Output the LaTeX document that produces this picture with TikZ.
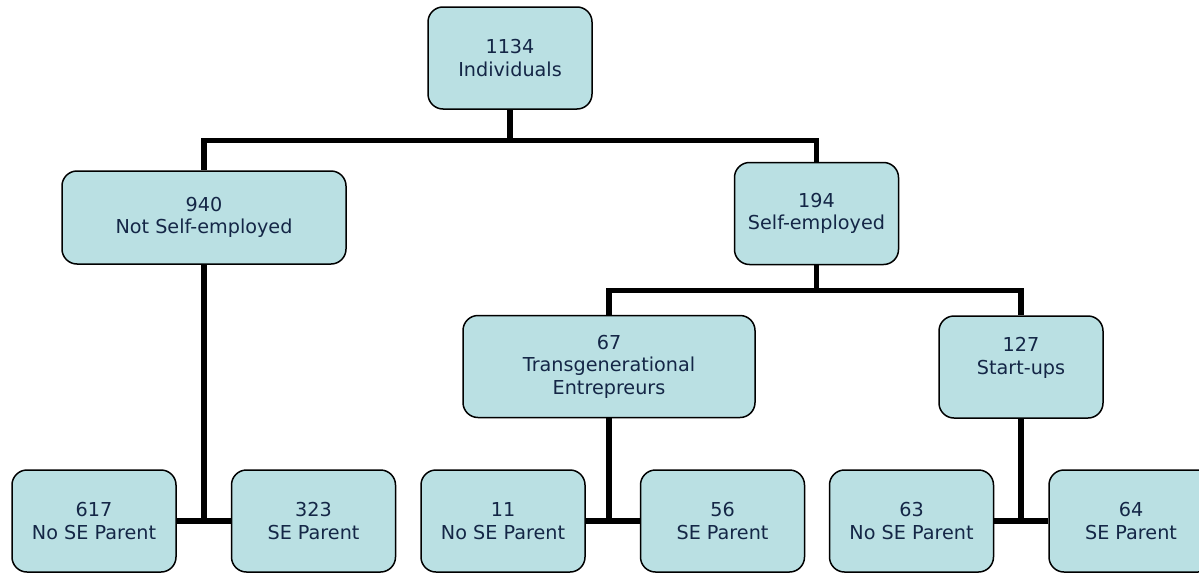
\documentclass[tikz,border=0pt]{standalone}
\usepackage{fontspec}
\setmainfont{DejaVu Sans}
\usetikzlibrary{positioning}
\definecolor{boxfill}{RGB}{186,224,227}
\definecolor{boxtext}{RGB}{20,38,70}

\begin{document}
\begin{tikzpicture}[x=0.5pt, y=-0.5pt, node distance=27pt,
	box/.style={draw, rounded corners=7.5pt, fill=boxfill, text=boxtext, line width=0.75pt,
		align=center, font=\fontsize{9.6}{11.2}\selectfont,
		minimum width=82pt, minimum height=51pt, inner sep=0pt},
	link/.style={line width=2.6pt}]
			\useasboundingbox (0,0) rectangle (1199,573);
			
			\node[box] (ind) at (510,58) {1134\\Individuals};
			
			\node[box, minimum width=142pt, minimum height=46.5pt] (nse) at (204,217.5) {940\\Not Self-employed};
			\node[box] (se) at (816.5,213.5) {194\\Self-employed};
			
			\node[box, minimum width=146pt] (tg) at (609,366.5) {67\\Transgenerational\\Entrepreurs};
			\node[box] (su) at (1021,367) {127\\Start-ups\\~};
			
			\node[box] (nseno) at (94,521) {617\\No SE Parent};
			\node[box] (nsese) [right=of nseno] {323\\SE Parent};
			
			\node[box] (tgno) at (503,521) {11\\No SE Parent};
			\node[box] (tgse) [right=of tgno] {56\\SE Parent};
			
			\node[box] (suno) at (911.5,521) {63\\No SE Parent};
			\node[box] (suse) [right=of suno] {64\\SE Parent};
			
			\draw[link] (ind.south) -- ++(0,31) -| (nse.north);
			\draw[link] (ind.south) -- ++(0,31) -| (se.north);
			
			\draw[link] (se.south) -- ++(0,25) -| (tg.north);
			\draw[link] (se.south) -- ++(0,25) -| (su.north);
			
			\draw[link] (nse.south) -- (nse.south |- nseno.east);
			\draw[link] (nseno) -- (nsese);
			
			\draw[link] (tg.south) -- (tg.south |- tgno.east);
			\draw[link] (tgno) -- (tgse);
			
			\draw[link] (su.south) -- (su.south |- suno.east);
			\draw[link] (suno) -- (suse);
\end{tikzpicture}
\end{document}
